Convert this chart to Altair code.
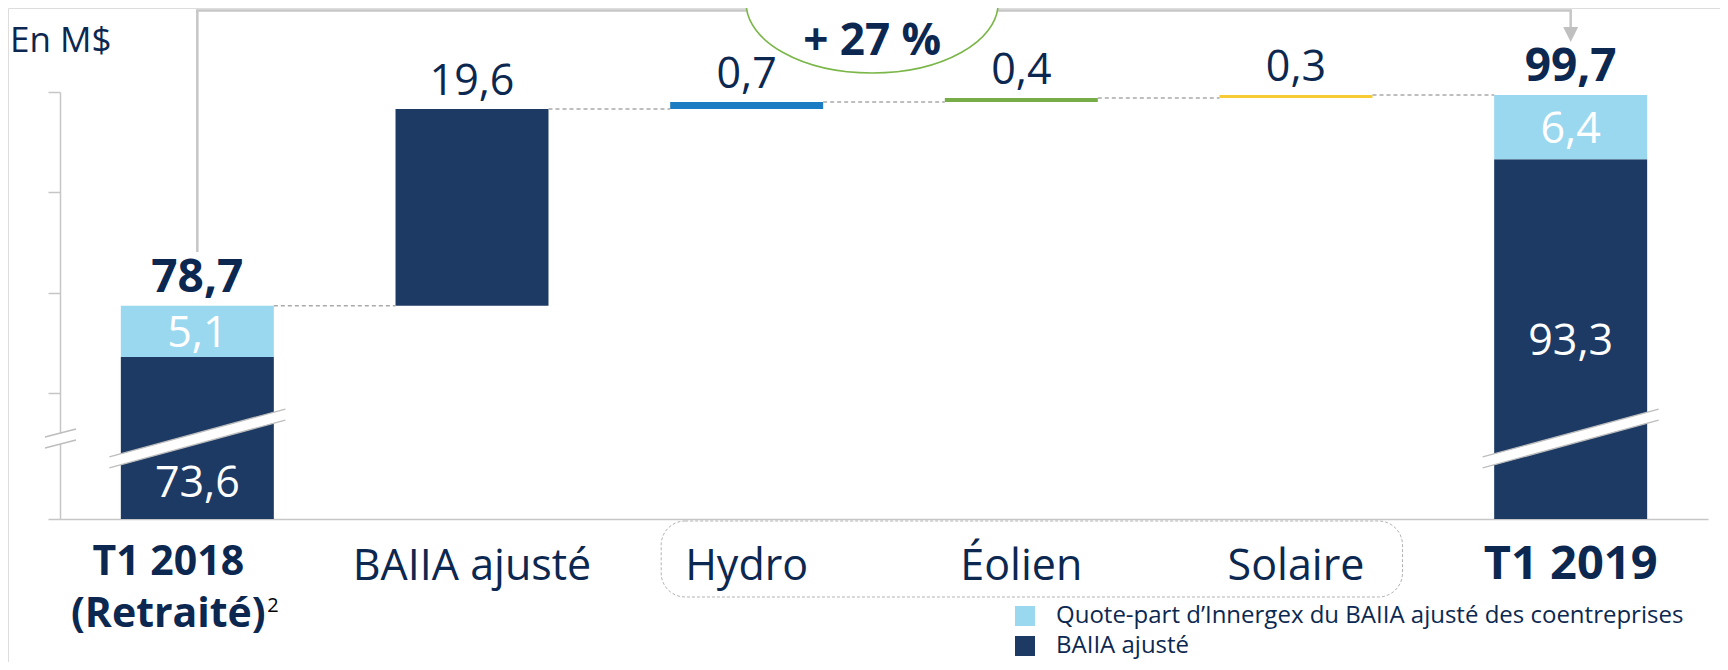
import altair as alt
import pandas as pd

# ---------------- data ----------------
categories = ["T1 2018", "BAIIA ajusté", "Hydro", "Éolien", "Solaire", "T1 2019"]
start_baiia = 73.6
start_share = 5.1
start_total = 78.7
step_categories = ["BAIIA ajusté", "Hydro", "Éolien", "Solaire"]
step_values = [19.6, 0.7, 0.4, 0.3]
end_baiia = 93.3
end_share = 6.4
end_total = 99.7
growth_text = "+ 27 %"
unit_text = "En M$"
light_name = "Quote-part d’Innergex du BAIIA ajusté des coentreprises"
dark_name = "BAIIA ajusté"
series_names = [light_name, dark_name, "Hydro", "Éolien", "Solaire"]
series_colors = ["#9ad8f0", "#1c3a64", "#1b7bc3", "#77ad46", "#f6cb33"]
step_series = [dark_name, "Hydro", "Éolien", "Solaire"]
axis_ticks = [70, 80, 90, 100]
AXIS_MIN = 57.45  # start of the broken value axis

NAVY = "#0c2850"
GREY = "#c6c6c6"
FONT = "Open Sans"


def fmt(v):
    return f"{v:.1f}".replace(".", ",")


# ---------------- derived tables ----------------
seg = [
    dict(cat=categories[0], start=0.0, end=start_baiia, series=dark_name),
    dict(cat=categories[0], start=start_baiia, end=start_baiia + start_share, series=light_name),
]
top_regular = []
conn = []
level = start_total
prev = categories[0]
for c, v, s in zip(step_categories, step_values, step_series):
    conn.append(dict(frm=prev, to=c, level=level))
    seg.append(dict(cat=c, start=level, end=level + v, series=s))
    top_regular.append(dict(cat=c, top=level + v, label=fmt(v)))
    level += v
    prev = c
conn.append(dict(frm=prev, to=categories[-1], level=level))
seg.append(dict(cat=categories[-1], start=0.0, end=end_baiia, series=dark_name))
seg.append(dict(cat=categories[-1], start=end_baiia, end=end_baiia + end_share, series=light_name))

seg_df = pd.DataFrame(seg)
top_reg_df = pd.DataFrame(top_regular)
top_bold_df = pd.DataFrame([
    dict(cat=categories[0], top=start_total, label=fmt(start_total)),
    dict(cat=categories[-1], top=end_total, label=fmt(end_total)),
])
light_lab_df = pd.DataFrame([
    dict(cat=categories[0], mid=start_baiia + start_share / 2, label=fmt(start_share)),
    dict(cat=categories[-1], mid=end_baiia + end_share / 2, label=fmt(end_share)),
])
dark_low_df = pd.DataFrame([dict(cat=categories[0], pos=0.0, label=fmt(start_baiia))])
dark_mid_df = pd.DataFrame([dict(cat=categories[-1], mid=(AXIS_MIN + end_baiia) / 2, label=fmt(end_baiia))])
conn_df = pd.DataFrame(conn)

# ---------------- scales / axes ----------------
xscale = alt.Scale(domain=categories, range=[52, 1700], paddingInner=0.443, paddingOuter=0.2215)
yscale = alt.Scale(domain=[AXIS_MIN, 100], range=[511, 84], clamp=True, nice=False, zero=False)
xaxis = alt.Axis(title=None, labels=False, ticks=False, grid=False, domain=True,
                 domainColor=GREY, domainWidth=1.5, offset=-143)
yaxis = alt.Axis(title=None, labels=False, ticks=True, tickSize=12, tickColor=GREY, tickWidth=1.5,
                 grid=False, domain=True, domainColor=GREY, domainWidth=1.5,
                 values=[AXIS_MIN] + axis_ticks, offset=-52)


def X(field, **kw):
    return alt.X(field, type="nominal", scale=xscale, axis=xaxis, **kw)


def Y(field):
    return alt.Y(field, type="quantitative", scale=yscale, axis=yaxis)


# ---------------- bracket + growth bubble ----------------
first_df = pd.DataFrame(dict(cat=[categories[0]]))
last_df = pd.DataFrame(dict(cat=[categories[-1]]))
span_df = pd.DataFrame(dict(frm=[categories[0]], to=[categories[-1]]))
hydro_df = pd.DataFrame(dict(cat=["Hydro"], label=[growth_text]))

br_left = alt.Chart(first_df).mark_rule(color=GREY, strokeWidth=2.5).encode(
    x=X("cat"), y=alt.value(2.5), y2=alt.value(244))
br_top = alt.Chart(span_df).mark_rule(color=GREY, strokeWidth=2.5, strokeCap="square").encode(
    x=X("frm"), x2=alt.X2("to"), y=alt.value(2.5))
br_right = alt.Chart(last_df).mark_rule(color=GREY, strokeWidth=2.5).encode(
    x=X("cat"), y=alt.value(2.5), y2=alt.value(20))
arrow = alt.Chart(last_df).mark_point(
    shape="M-1,-1 L1,-1 L0,1 Z", filled=True, color="#c0c0c0", opacity=1, size=225).encode(
    x=X("cat"), y=alt.value(26.5))

ellipse = alt.Chart(hydro_df).mark_point(
    shape="M1,0 C1,0.3068 0.5523,0.5556 0,0.5556 C-0.5523,0.5556 -1,0.3068 -1,0 "
          "C-1,-0.3068 -0.5523,-0.5556 0,-0.5556 C0.5523,-0.5556 1,-0.3068 1,0 Z",
    filled=True, fill="white", stroke="#7ab648", strokeWidth=1.6, opacity=1, size=63504,
    xOffset=49).encode(
    x=X("cat", bandPosition=1), y=alt.value(-5))
growth = alt.Chart(hydro_df).mark_text(
    font=FONT, fontSize=44, fontWeight="bold", color=NAVY, baseline="alphabetic", align="center",
    dx=49).encode(
    x=X("cat", bandPosition=1), y=alt.value(47), text="label:N")

# ---------------- bars ----------------
bars = alt.Chart(seg_df).mark_bar().encode(
    x=X("cat"),
    y=Y("start"),
    y2=alt.Y2("end"),
    color=alt.Color("series:N", scale=alt.Scale(domain=series_names, range=series_colors),
                    legend=alt.Legend(title=None, orient="none", legendX=1005, legendY=596,
                                      values=[light_name, dark_name], direction="vertical",
                                      symbolType="square", symbolSize=400, symbolStrokeWidth=0,
                                      labelFont=FONT, labelFontSize=24, labelColor=NAVY,
                                      labelOffset=19, labelLimit=1000, rowPadding=6, padding=0)),
)

# axis breaks
brk_df = pd.DataFrame(dict(cat=[categories[0], categories[-1]]))
brk_fill = alt.Chart(brk_df).mark_point(
    shape="M-1,0.210 L1,-0.335 L1,-0.210 L-1,0.335 Z", filled=True, color="white",
    opacity=1, strokeWidth=0, size=30976).encode(x=X("cat"), y=alt.value(430.5))
brk_edge = alt.Chart(brk_df).mark_point(
    shape="M-1,0.210 L1,-0.335 M-1,0.335 L1,-0.210", filled=False, color="#bdbdbd",
    opacity=1, strokeWidth=1.3, size=30976).encode(x=X("cat"), y=alt.value(430.5))
ax_brk_fill = alt.Chart(first_df).mark_point(
    shape="M-1,-0.097 L1,-0.613 L1,0.097 L-1,0.613 Z", filled=True, color="white",
    opacity=1, strokeWidth=0, size=961).encode(x=alt.value(52.5), y=alt.value(430.5))
ax_brk_edge = alt.Chart(first_df).mark_point(
    shape="M-1,-0.097 L1,-0.613 M-1,0.613 L1,0.097", filled=False, color="#bdbdbd",
    opacity=1, strokeWidth=1.3, size=961).encode(x=alt.value(52.5), y=alt.value(430.5))

# connectors
connectors = alt.Chart(conn_df).mark_rule(color="#a9a9a9", strokeDash=[4, 3], strokeWidth=1.5).encode(
    x=X("frm", bandPosition=1), x2=alt.X2("to", bandPosition=0), y=Y("level"))

# dashed rounded frame around the segment labels
frame_df = pd.DataFrame(dict(frm=["Hydro"], to=["Solaire"]))
frame = alt.Chart(frame_df).mark_rect(
    filled=False, stroke="#b3b3b3", strokeDash=[3, 2], strokeWidth=1, cornerRadius=24,
    xOffset=-9, x2Offset=30).encode(
    x=X("frm", bandPosition=0), x2=alt.X2("to", bandPosition=1), y=alt.value(513), y2=alt.value(589))

# ---------------- labels ----------------
top_reg = alt.Chart(top_reg_df).mark_text(
    font=FONT, fontSize=43, color=NAVY, baseline="alphabetic", align="center", dy=-14).encode(
    x=X("cat"), y=Y("top"), text="label:N")
top_bold = alt.Chart(top_bold_df).mark_text(
    font=FONT, fontSize=46, fontWeight="bold", color=NAVY, baseline="alphabetic", align="center",
    dy=-14).encode(x=X("cat"), y=Y("top"), text="label:N")
light_lab = alt.Chart(light_lab_df).mark_text(
    font=FONT, fontSize=43, color="white", baseline="alphabetic", align="center", dy=16).encode(
    x=X("cat"), y=Y("mid"), text="label:N")
dark_mid = alt.Chart(dark_mid_df).mark_text(
    font=FONT, fontSize=43, color="white", baseline="alphabetic", align="center", dy=16).encode(
    x=X("cat"), y=Y("mid"), text="label:N")
dark_low = alt.Chart(dark_low_df).mark_text(
    font=FONT, fontSize=43, color="white", baseline="alphabetic", align="center", dy=-22).encode(
    x=X("cat"), y=Y("pos"), text="label:N")

reg_cat_df = pd.DataFrame(dict(cat=categories[1:5]))
cat_reg = alt.Chart(reg_cat_df).mark_text(
    font=FONT, fontSize=43, color=NAVY, baseline="alphabetic", align="center").encode(
    x=X("cat"), y=alt.value(572), text="cat:N")
cat_2019 = alt.Chart(last_df).mark_text(
    font=FONT, fontSize=47, fontWeight="bold", color=NAVY, baseline="alphabetic", align="center").encode(
    x=X("cat"), y=alt.value(571), text="cat:N")
cat_2018 = alt.Chart(first_df).mark_text(
    font=FONT, fontSize=41, fontWeight="bold", color=NAVY, baseline="alphabetic", align="center",
    dx=-29).encode(x=X("cat"), y=alt.value(567), text="cat:N")
restated_df = pd.DataFrame(dict(cat=[categories[0]], label=["(Retraité)"], note=["2"]))
cat_2018b = alt.Chart(restated_df).mark_text(
    font=FONT, fontSize=41, fontWeight="bold", color=NAVY, baseline="alphabetic", align="center",
    dx=-29).encode(x=X("cat"), y=alt.value(619), text="label:N")
note = alt.Chart(restated_df).mark_text(
    font=FONT, fontSize=20, color="black", baseline="alphabetic", align="left", dx=70).encode(
    x=X("cat"), y=alt.value(604), text="note:N")

unit_df = pd.DataFrame(dict(label=[unit_text]))
unit = alt.Chart(unit_df).mark_text(
    font=FONT, fontSize=35, color=NAVY, baseline="alphabetic", align="left").encode(
    x=alt.value(2), y=alt.value(44), text="label:N")

chart = alt.layer(
    br_left, br_top, br_right, arrow, ellipse, growth,
    bars, brk_fill, brk_edge, ax_brk_fill, ax_brk_edge,
    connectors, frame,
    top_reg, top_bold, light_lab, dark_mid, dark_low,
    cat_reg, cat_2019, cat_2018, cat_2018b, note, unit,
).properties(
    width=1712, height=654,
    autosize=alt.AutoSizeParams(type="none"),
    padding=0,
).configure_view(strokeWidth=0).configure(background="white", font=FONT)

chart.save("out.html", embed_options={"renderer": "svg", "actions": False})
